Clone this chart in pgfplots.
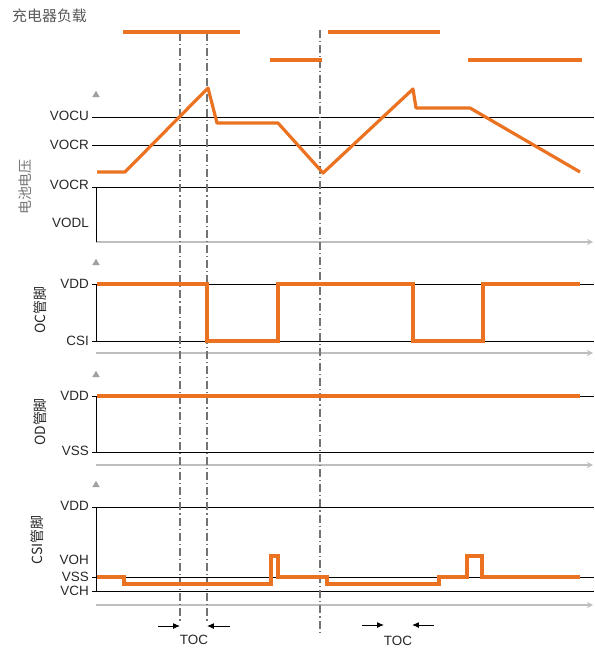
\documentclass[border=0pt]{standalone}
\usepackage{fontspec}
\setmainfont{Liberation Sans}
\newfontfamily\cjk{Noto Sans CJK SC}
\usepackage{pgfplots}
\pgfplotsset{compat=1.18}
\usetikzlibrary{arrows.meta}

\definecolor{sig}{RGB}{234,114,32}
\definecolor{grid}{RGB}{160,160,160}
\definecolor{axisc}{RGB}{190,190,190}
\definecolor{dashc}{RGB}{115,115,115}
\definecolor{lbl}{RGB}{40,40,40}

\begin{document}
\begin{tikzpicture}
\begin{axis}[
    scale only axis,
    width=594bp, height=651bp,
    xmin=0, xmax=594, ymin=0, ymax=651,
    y dir=reverse,
    hide axis,
    clip=false,
]
% fix the page to the full axis area
\path (rel axis cs:0,0) rectangle (rel axis cs:1,1);

% grid lines (levels)
\pgfplotsinvokeforeach{117,145,187,284,341,396,452,507,577,591}{
  \addplot[grid, line width=0.9pt] coordinates {(92,#1) (594,#1)};
}
% bottom axes with arrows
\pgfplotsinvokeforeach{242,353,465,605}{
  \addplot[axisc, line width=1.8pt, -{Stealth[length=6pt,width=6pt]}] coordinates {(96,#1) (593,#1)};
}
% left vertical axes
\addplot[grid, line width=0.9pt] coordinates {(96,187) (96,242)};
\addplot[grid, line width=0.9pt] coordinates {(96,284) (96,341)};
\addplot[grid, line width=0.9pt] coordinates {(96,396) (96,452)};
\addplot[grid, line width=0.9pt] coordinates {(96,507) (96,591)};
% y-axis arrow heads
\addplot[only marks, mark=triangle*, mark size=3.8pt, color=grid] coordinates {(96,95) (96,263) (96,375) (96,485)};

% dash-dot markers
\addplot[dashc, line width=1.1pt, dash pattern=on 8pt off 3pt on 1.2pt off 3pt] coordinates {(180,33) (180,622)};
\addplot[dashc, line width=1.1pt, dash pattern=on 8pt off 3pt on 1.2pt off 3pt] coordinates {(207,33) (207,622)};
\addplot[dashc, line width=1.1pt, dash pattern=on 8pt off 3pt on 1.2pt off 3pt] coordinates {(320,30) (320,632)};

% charger load
\addplot[sig, line width=3.5pt] coordinates {(123,32) (240,32)};
\addplot[sig, line width=3.5pt] coordinates {(270,60) (322,60)};
\addplot[sig, line width=3.5pt] coordinates {(328,32) (440,32)};
\addplot[sig, line width=4pt] coordinates {(468,60) (582,60)};

% battery voltage
\addplot[sig, line width=3.2pt, line join=round] coordinates {
  (97,172) (125,172) (208,88) (217,123) (278,123) (323,173)
  (413,89) (416,108) (470,108) (580,172)};

% OC pin
\addplot[sig, line width=4pt] coordinates {
  (97,284) (207,284) (207,341) (278,341) (278,284) (413,284)
  (413,341) (483,341) (483,284) (580,284)};

% OD pin
\addplot[sig, line width=3.6pt] coordinates {(97,396) (580,396)};

% CSI pin
\addplot[sig, line width=3.6pt] coordinates {
  (97,577) (124,577) (124,584) (271,584) (271,556) (278,556)
  (278,577) (327,577) (327,584) (439,584) (439,577) (467,577)
  (467,556) (482,556) (482,577) (580,577)};

% TOC arrows
\addplot[grid, line width=1pt, -{Latex[length=7pt,width=6pt]}] coordinates {(158,626) (180,626)};
\addplot[grid, line width=1pt, -{Latex[length=7pt,width=6pt]}] coordinates {(230,626) (207,626)};
\addplot[grid, line width=1pt, -{Latex[length=7pt,width=6pt]}] coordinates {(362,625) (384,625)};
\addplot[grid, line width=1pt, -{Latex[length=7pt,width=6pt]}] coordinates {(434,625) (412,625)};

% labels
\begin{scope}[every node/.style={font=\fontsize{13.5}{15}\selectfont, text=lbl, inner sep=0pt, anchor=east}]
\node at (axis cs:89,116) {VOCU};
\node at (axis cs:89,145) {VOCR};
\node at (axis cs:89,185) {VOCR};
\node at (axis cs:89,223) {VODL};
\node at (axis cs:89,284) {VDD};
\node at (axis cs:89,341) {CSI};
\node at (axis cs:89,396) {VDD};
\node at (axis cs:89,451) {VSS};
\node at (axis cs:89,506) {VDD};
\node at (axis cs:89,560) {VOH};
\node at (axis cs:89,577) {VSS};
\node at (axis cs:89,591) {VCH};
\end{scope}
\node[font=\fontsize{13.5}{15}\selectfont, text=lbl, inner sep=0pt] at (axis cs:194,640) {TOC};
\node[font=\fontsize{13.5}{15}\selectfont, text=lbl, inner sep=0pt] at (axis cs:398,641) {TOC};

\node[font=\cjk\fontsize{15}{17}\selectfont, text=black!65, inner sep=0pt, anchor=west] at (axis cs:12,16) {充电器负载};
\node[font=\cjk\fontsize{14}{16}\selectfont, text=black!55, inner sep=0pt, rotate=90] at (axis cs:25,187) {电池电压};
\node[font=\cjk\fontsize{14}{16}\selectfont, text=lbl, inner sep=0pt, rotate=90] at (axis cs:40,310) {OC管脚};
\node[font=\cjk\fontsize{14}{16}\selectfont, text=lbl, inner sep=0pt, rotate=90] at (axis cs:40,422) {OD管脚};
\node[font=\cjk\fontsize{14}{16}\selectfont, text=lbl, inner sep=0pt, rotate=90] at (axis cs:37,540) {CSI管脚};
\end{axis}
\end{tikzpicture}
\end{document}
